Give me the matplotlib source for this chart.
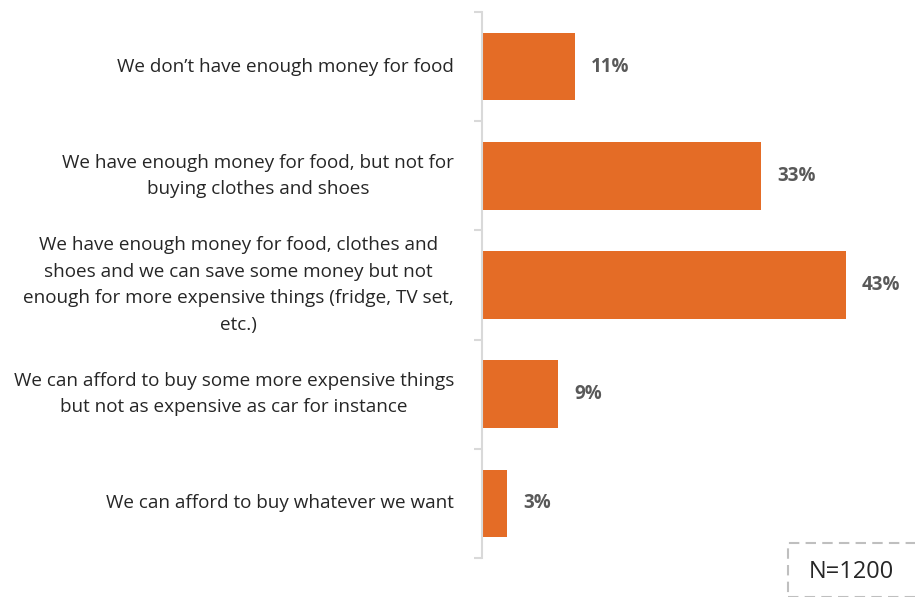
import numpy as np
import matplotlib.pyplot as plt
from matplotlib.patches import Rectangle

plt.rcParams['font.family'] = ['Open Sans', 'DejaVu Sans']

categories = [
    "We don\u2019t have enough money for food",
    "We have enough money for food, but not for\nbuying clothes and shoes",
    "We have enough money for food, clothes and\nshoes and we can save some money but not\nenough for more expensive things (fridge, TV set,\netc.)",
    "We can afford to buy some more expensive things\nbut not as expensive as car for instance",
    "We can afford to buy whatever we want",
]
values = [11, 33, 43, 9, 3]
labels = ["11%", "33%", "43%", "9%", "3%"]
sample_note = "N=1200"

bar_color = "#E46C26"
value_color = "#595959"
axis_color = "#D9D9D9"

fig = plt.figure(figsize=(9.15, 5.97), dpi=100)
ax = fig.add_axes([482 / 915, 1 - 558 / 597, 423 / 915, (558 - 12) / 597])

y = np.arange(len(values))
ax.barh(y, values, height=0.62, color=bar_color)
ax.set_ylim(len(values) - 0.5, -0.5)
ax.set_xlim(0, 50)

for yi, v, lab in zip(y, values, labels):
    ax.text(v + 1.9, yi, lab, va='center', ha='left', fontsize=13.5,
            fontweight='bold', color=value_color)

for yi, cat in zip(y, categories):
    ax.text(-3.3, yi, cat, va='center', ha='right', multialignment='center',
            fontsize=13.6, color='#262626', linespacing=1.6)

ax.set_xticks([])
ax.set_yticks(np.arange(len(values) + 1) - 0.5)
ax.set_yticklabels([])
ax.tick_params(axis='y', length=6, width=1.5, color=axis_color)
for s in ['top', 'right', 'bottom']:
    ax.spines[s].set_visible(False)
ax.spines['left'].set_color(axis_color)
ax.spines['left'].set_linewidth(1.5)

# sample size box
fig.patches.append(Rectangle((788 / 915, 0), 140 / 915, 54 / 597,
                             transform=fig.transFigure, fill=False,
                             edgecolor='#BFBFBF', linestyle=(0, (5, 3)),
                             linewidth=1.5))
fig.text(851 / 915, 1 - 572 / 597, sample_note, ha='center', va='center',
         fontsize=17, color='#262626')

fig.savefig("out.png", dpi=100)
